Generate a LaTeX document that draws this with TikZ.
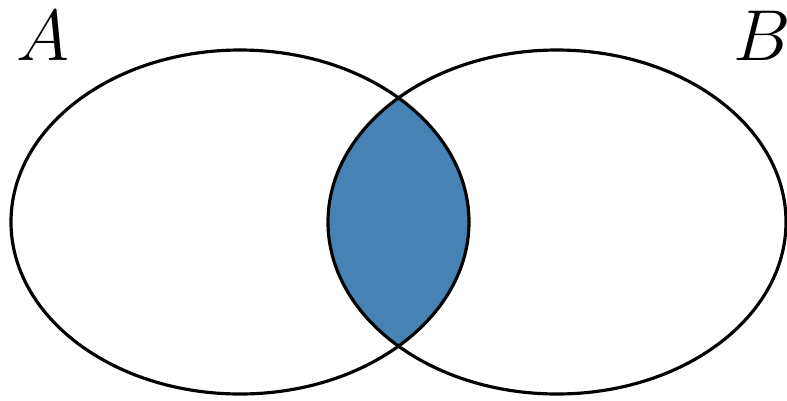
\documentclass[tikz,border=0pt]{standalone}
\usepackage{xcolor}
\usepackage{tikz}
\definecolor{lensblue}{HTML}{4682B4}

\begin{document}
\begin{tikzpicture}[x=0.02cm, y=-0.02cm,
    setline/.style={draw=black, line width=1.8pt},
    setlabel/.style={inner sep=0pt, font=\fontsize{24.88}{30}\selectfont,
                     scale=1.65, transform shape}]
    \useasboundingbox (0,0) rectangle (787,400);
    % shaded overlap of A and B
    \begin{scope}
      \clip (240,222) ellipse [x radius=229, y radius=172];
      \fill[lensblue] (557,222) ellipse [x radius=229, y radius=172];
    \end{scope}
    \draw[setline] (240,222) ellipse [x radius=229, y radius=172];
    \draw[setline] (557,222) ellipse [x radius=229, y radius=172];
    \node[setlabel] (labA) at (43,36) {$A$};
    \node[setlabel] (labB) at (762,36) {$B$};
\end{tikzpicture}
\end{document}
